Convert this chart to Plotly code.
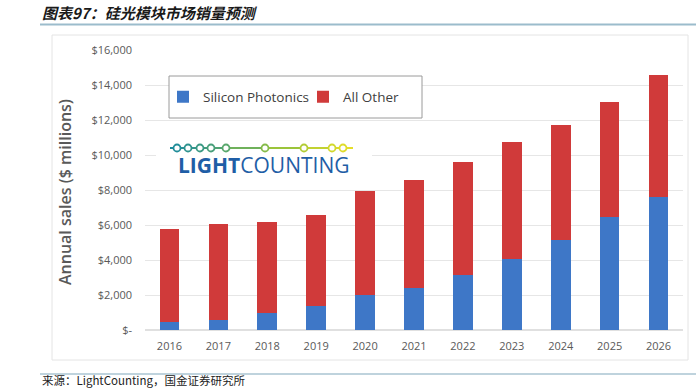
import plotly.graph_objects as go

years = ["2016", "2017", "2018", "2019", "2020", "2021", "2022", "2023", "2024", "2025", "2026"]
silicon_photonics = [450, 600, 950, 1350, 2000, 2400, 3150, 4050, 5150, 6450, 7600]
totals = [5800, 6050, 6200, 6600, 7950, 8600, 9600, 10750, 11700, 13050, 14550]
all_other = [t - s for t, s in zip(totals, silicon_photonics)]
tick_vals = [0, 2000, 4000, 6000, 8000, 10000, 12000, 14000, 16000]
tick_text = ["$-", "$2,000", "$4,000", "$6,000", "$8,000", "$10,000", "$12,000", "$14,000", "$16,000"]

W, H = 696, 390
L, R, T, B = 145, 13, 50, 60
PW, PH = W - L - R, H - T - B


def px(x):
    return (x - L) / PW


def py(y):
    return (H - B - y) / PH


fig = go.Figure()
fig.add_trace(go.Bar(x=years, y=silicon_photonics, name="Silicon Photonics",
                     marker=dict(color="#3e77c7", line=dict(width=0)), width=0.4))
fig.add_trace(go.Bar(x=years, y=all_other, name="All Other",
                     marker=dict(color="#d03a3a", line=dict(width=0)), width=0.4))

shapes = []
# panel
shapes.append(dict(type="rect", xref="paper", yref="paper", x0=px(52), x1=px(688), y0=py(360), y1=py(35),
                   line=dict(color="#e4e4e4", width=1), fillcolor="rgba(0,0,0,0)", layer="below"))
# header / footer rules
shapes.append(dict(type="line", xref="paper", yref="paper", x0=px(40), x1=px(696), y0=py(24.5), y1=py(24.5),
                   line=dict(color="#9bbccc", width=2)))
shapes.append(dict(type="line", xref="paper", yref="paper", x0=px(40), x1=px(696), y0=py(374), y1=py(374),
                   line=dict(color="#bfd3dd", width=2)))
# legend box
shapes.append(dict(type="rect", xref="paper", yref="paper", x0=px(169), x1=px(422), y0=py(118), y1=py(76),
                   line=dict(color="#9a9a9a", width=1), fillcolor="white", layer="above"))
# logo background
shapes.append(dict(type="rect", xref="paper", yref="paper", x0=px(156), x1=px(372), y0=py(182), y1=py(130),
                   line=dict(width=0), fillcolor="white", layer="above"))

# logo line with circles (gradient teal -> yellow)
dots = [177, 188, 200, 211, 226, 265, 304, 332, 343]
x_start, x_end = 170, 353
ly = 148


def grad(t):
    c0 = (26, 138, 160)
    c1 = (150, 195, 60)
    c2 = (235, 225, 40)
    if t < 0.6:
        u = t / 0.6
        a, b = c0, c1
    else:
        u = (t - 0.6) / 0.4
        a, b = c1, c2
    return "rgb(%d,%d,%d)" % tuple(int(a[i] + (b[i] - a[i]) * u) for i in range(3))


pts = [x_start] + dots + [x_end]
for i in range(len(pts) - 1):
    t = (pts[i] + pts[i + 1]) / 2
    shapes.append(dict(type="line", xref="paper", yref="paper", x0=px(pts[i]), x1=px(pts[i + 1]),
                       y0=py(ly), y1=py(ly), layer="above",
                       line=dict(color=grad((t - x_start) / (x_end - x_start)), width=2)))
r = 3.5
for d in dots:
    c = grad((d - x_start) / (x_end - x_start))
    shapes.append(dict(type="circle", xref="paper", yref="paper", x0=px(d - r), x1=px(d + r),
                       y0=py(ly + r), y1=py(ly - r), layer="above",
                       line=dict(color=c, width=1.8), fillcolor="white"))

annotations = [
    dict(text="<b><i>图表97：硅光模块市场销量预测</i></b>", xref="paper", yref="paper", x=px(40), y=py(12),
         xanchor="left", yanchor="middle", showarrow=False,
         font=dict(family="Noto Sans CJK SC", size=15, color="#1a1a1a")),
    dict(text="来源：LightCounting，国金证券研究所", xref="paper", yref="paper", x=px(40), y=py(390),
         xanchor="left", yanchor="bottom", showarrow=False,
         font=dict(family="Noto Sans CJK SC", size=11.5, color="#222222")),
    dict(text="Annual sales ($ millions)", xref="paper", yref="paper", x=px(65), y=py(192),
         xanchor="center", yanchor="middle", showarrow=False, textangle=-90,
         font=dict(family="Open Sans", size=16, color="#595959", weight=600)),
    dict(text="<b>LIGHT</b>COUNTING", xref="paper", yref="paper", x=px(176), y=py(165),
         xanchor="left", yanchor="middle", showarrow=False,
         font=dict(family="Open Sans", size=21, color="#1f5ea6")),
]

fig.update_layout(
    width=W, height=H,
    margin=dict(l=L, r=R, t=T, b=B),
    paper_bgcolor="white", plot_bgcolor="white",
    barmode="stack",
    shapes=shapes, annotations=annotations,
    legend=dict(orientation="h", x=px(163), y=py(97), xanchor="left", yanchor="middle",
                bgcolor="rgba(0,0,0,0)", borderwidth=0,
                font=dict(family="Open Sans", size=13.5, color="#404040"),
                itemwidth=30, traceorder="normal", entrywidth=95, entrywidthmode="pixels"),
    xaxis=dict(showgrid=False, showline=False, ticks="", ticklabelstandoff=8,
               tickfont=dict(family="Open Sans", size=11, color="#595959"), fixedrange=True),
    yaxis=dict(range=[0, 16000], tickvals=tick_vals, ticktext=tick_text,
               showgrid=True, gridcolor="#e6e6e6", gridwidth=1, zeroline=True, zerolinecolor="#e0e0e0",
               ticks="", ticklabelstandoff=12, showline=False,
               tickfont=dict(family="Open Sans", size=11, color="#595959")),
)

fig.write_html("out.html", post_script="document.body.style.margin='0';",
               config={"displayModeBar": False})
